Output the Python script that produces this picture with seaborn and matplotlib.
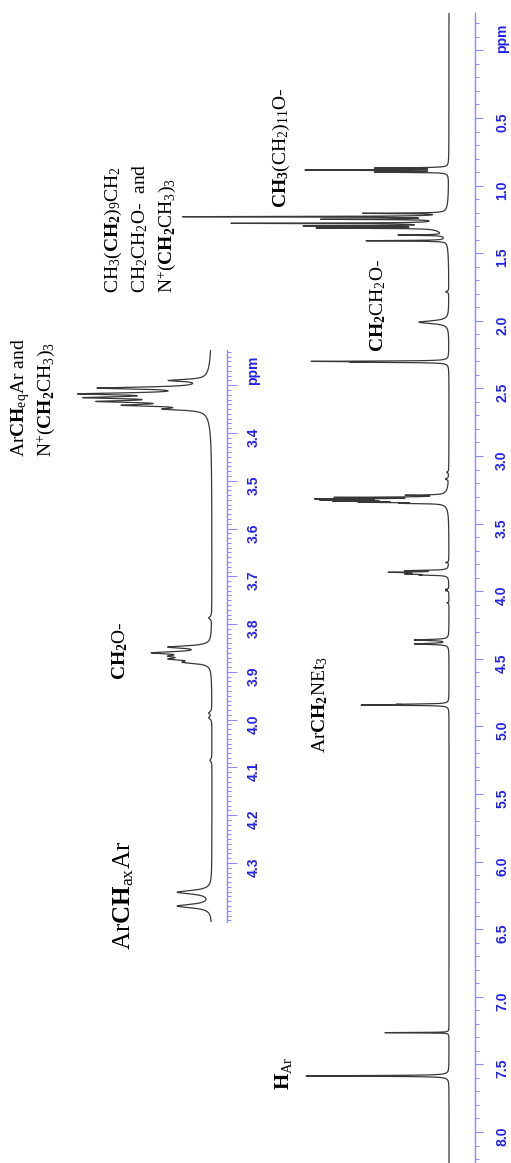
import numpy as np
import matplotlib
matplotlib.use("Agg")
import matplotlib.pyplot as plt
from matplotlib.ticker import MultipleLocator
import seaborn as sns

# peaks: shift (ppm), height (same units in main and inset), half width (ppm)
peak_ppm = [0.870, 0.885, 0.900,
            1.205, 1.230, 1.249, 1.279, 1.299, 1.314, 1.366, 1.408, 1.300,
            1.785, 2.010, 2.300, 2.306, 3.120, 3.170,
            3.290, 3.306, 3.318, 3.326, 3.334, 3.342, 3.350, 3.320,
            3.787, 3.848, 3.860, 3.867, 3.873, 3.880, 3.986, 3.996, 4.085,
            4.361, 4.390, 4.836, 4.842, 7.265, 7.585]
peak_height = [70, 140, 70,
               80, 258, 115, 202, 125, 115, 45, 80, 14,
               3, 30, 126, 80, 2, 3,
               35, 100, 110, 100, 90, 70, 35, 8,
               3, 40, 52, 28, 32, 22, 3, 3, 2,
               34, 34, 40, 82, 64, 143]
peak_width = [0.0025, 0.0025, 0.0025,
              0.0025, 0.0025, 0.0025, 0.0025, 0.0025, 0.0025, 0.0025, 0.0025, 0.05,
              0.005, 0.012, 0.0025, 0.0025, 0.005, 0.005,
              0.0025, 0.0025, 0.0025, 0.0025, 0.0025, 0.0025, 0.0025, 0.035,
              0.003, 0.003, 0.003, 0.003, 0.003, 0.003, 0.003, 0.003, 0.003,
              0.0045, 0.0045, 0.0025, 0.0025, 0.0015, 0.003]

main_ticks = [0.0, 0.5, 1.0, 1.5, 2.0, 2.5, 3.0, 3.5, 4.0, 4.5, 5.0, 5.5, 6.0, 6.5, 7.0, 7.5, 8.0]
main_tick_labels = ["", "0.5", "1.0", "1.5", "2.0", "2.5", "3.0", "3.5", "4.0", "4.5",
                    "5.0", "5.5", "6.0", "6.5", "7.0", "7.5", "8.0"]
inset_ticks = [3.3, 3.4, 3.5, 3.6, 3.7, 3.8, 3.9, 4.0, 4.1, 4.2, 4.3]
inset_tick_labels = ["", "3.4", "3.5", "3.6", "3.7", "3.8", "3.9", "4.0", "4.1", "4.2", "4.3"]

sns.set_style("white")
plt.rcParams["font.family"] = ["Liberation Serif", "DejaVu Serif"]
plt.rcParams["mathtext.fontset"] = "custom"
plt.rcParams["mathtext.rm"] = "Liberation Serif"
plt.rcParams["mathtext.bf"] = "Liberation Serif:bold"
plt.rcParams["mathtext.it"] = "Liberation Serif:italic"

AXIS_COL = "#8a8aff"
LABEL_COL = "#2222ee"
LINE_COL = "#383838"


def spectrum(ppm):
    y = np.zeros_like(ppm)
    for p, h, w in zip(peak_ppm, peak_height, peak_width):
        y += h * w ** 2 / ((ppm - p) ** 2 + w ** 2)
    return y


W, H = 511, 1163
fig = plt.figure(figsize=(W / 100, H / 100), dpi=100)


def px_axes(left, top, right, bottom):
    return fig.add_axes([left / W, 1 - bottom / H, (right - left) / W, (bottom - top) / H])


def style_axis(ax, ticks, labels, major_len, pad):
    for s in ["top", "left", "bottom"]:
        ax.spines[s].set_visible(False)
    ax.spines["right"].set_color(AXIS_COL)
    ax.spines["right"].set_linewidth(1.0)
    ax.set_facecolor("none")
    ax.yaxis.tick_right()
    ax.set_xticks([])
    ax.set_xlabel("")
    ax.set_ylabel("")
    ax.set_yticks(ticks, labels=labels, fontfamily="Liberation Sans", fontweight="bold")
    ax.tick_params(axis="y", which="major", direction="out", length=major_len, width=0.8,
                   color=AXIS_COL, labelcolor=LABEL_COL, labelsize=10, pad=pad,
                   labelrotation=90)
    ax.tick_params(axis="y", which="minor", direction="out", length=3, width=0.7,
                   color=AXIS_COL)


# main spectrum
ax = px_axes(0, 13, 475, 1163)
ppm_main = np.union1d(np.arange(-0.3, 8.25, 0.0004), peak_ppm)
sns.lineplot(x=spectrum(ppm_main), y=ppm_main, orient="y", sort=False, estimator=None,
             color=LINE_COL, linewidth=0.9, ax=ax)
ax.set_xlim(449, -26)
ax.set_ylim(8.2293, -0.2766)
style_axis(ax, main_ticks, main_tick_labels, 6, 8.5)
ax.yaxis.set_minor_locator(MultipleLocator(0.1))

# expanded region 3.2 - 4.4 ppm
axi = px_axes(0, 350, 227, 922)
ppm_in = np.union1d(np.arange(3.226, 4.424, 0.0002),
                    [p for p in peak_ppm if 3.226 < p < 4.424])
sns.lineplot(x=spectrum(ppm_in), y=ppm_in, orient="y", sort=False, estimator=None,
             color=LINE_COL, linewidth=0.9, ax=axi)
axi.set_xlim(212, -15)
axi.set_ylim(4.4234, 3.2263)
style_axis(axi, inset_ticks, inset_tick_labels, 7, 7)
axi.yaxis.set_minor_locator(MultipleLocator(0.01))

fig.text(502 / W, 1 - 38 / H, "ppm", rotation=90, ha="center", va="center",
         color=LABEL_COL, fontsize=10, fontweight="bold", family="Liberation Sans")
fig.text(253 / W, 1 - 370 / H, "ppm", rotation=90, ha="center", va="center",
         color=LABEL_COL, fontsize=10, fontweight="bold", family="Liberation Sans")


def label(x, y, s, size=14):
    fig.text(x / W, 1 - y / H, s, rotation=90, rotation_mode="anchor",
             ha="left", va="center", fontsize=size, color="black")


label(281, 208, r"$\mathbf{CH_3}\mathrm{(CH_2)_{11}O}$-")
label(113, 293, r"$\mathrm{CH_3(}\mathbf{CH_2}\mathrm{)_9CH_2}$")
label(140, 293, r"$\mathrm{CH_2CH_2O}$-  and")
label(167, 293, r"$\mathrm{N^{+}(}\mathbf{CH_2}\mathrm{CH_3)_3}$")
label(378, 352, r"$\mathbf{CH_2}\mathrm{CH_2O}$-")
label(21, 457, r"Ar$\mathbf{CH}_{\mathrm{eq}}$Ar and")
label(46, 457, r"$\mathrm{N^{+}(}\mathbf{CH_2}\mathrm{CH_3)_3}$")
label(120, 680, r"$\mathbf{CH_2}$O-")
label(320, 753, r"Ar$\mathbf{CH_2}$NEt$_3$")
label(124, 950, r"Ar$\mathbf{CH}_{\mathrm{ax}}$Ar", size=18)
label(283, 1090, r"$\mathbf{H}_{\mathrm{Ar}}$", size=15)

fig.savefig("out.png", dpi=100)
